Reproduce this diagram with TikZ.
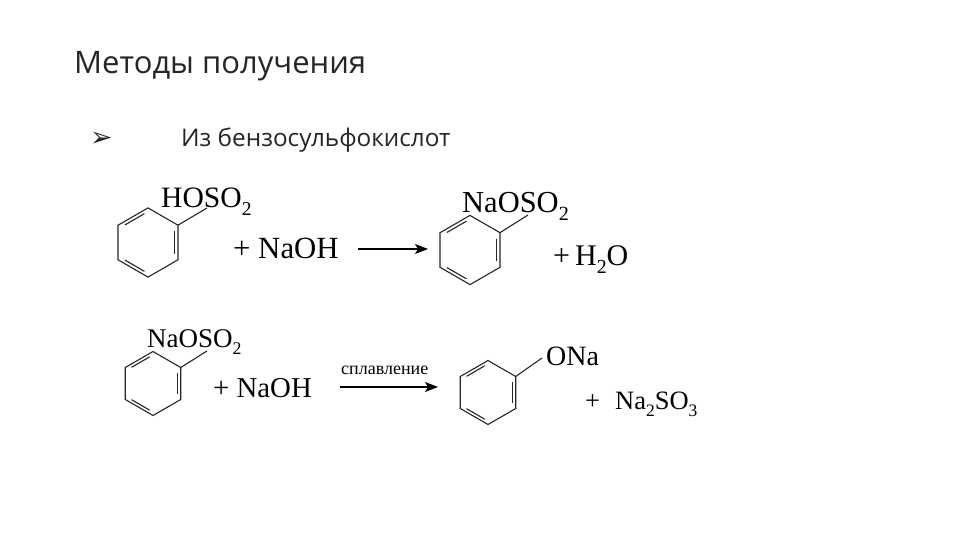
\documentclass[tikz,border=0pt]{standalone}
\usepackage{fontspec}
\setmainfont{Open Sans}
\newfontfamily\chemfont{Liberation Serif}
\newfontfamily\markfont{DejaVu Sans}
\usetikzlibrary{arrows.meta,calc,positioning}
\tikzset{
  >={Stealth[length=13pt,width=10pt,inset=3pt]}
}
\newcommand{\chemsub}[1]{\raisebox{-0.28em}{\scalebox{0.66}{#1}}}

\begin{document}
\begin{tikzpicture}[
        x=1pt,y=-1pt,
        ttl/.style={anchor=base west,inner sep=0pt,text=black!85},
        chem/.style={anchor=base west,inner sep=0pt,font=\chemfont\fontsize{#1}{#1}\selectfont},
        bond/.style={line width=1.1pt,black!85},
        benz/.pic={
          \coordinate (-tr) at (-30:#1);
          \draw[bond] (-30:#1) -- (30:#1) -- (90:#1) -- (150:#1) -- (210:#1) -- (270:#1) -- cycle;
          \draw[bond] (-23:0.84*#1) -- (23:0.84*#1);
          \draw[bond] (97:0.84*#1) -- (143:0.84*#1);
          \draw[bond] (217:0.84*#1) -- (263:0.84*#1);
        }
      ]
      \path[use as bounding box,fill=white] (0,0) rectangle (960,540);
      \node (TTL) at (74,74) [ttl,font=\fontsize{31}{31}\selectfont] {Методы получения};
      \node (MARK) at (90,146.5) [ttl,font=\markfont\fontsize{27}{27}\selectfont] {➢};
      \node (SUB) at (181,147) [ttl,font=\fontsize{24.3}{24.3}\selectfont] {Из бензосульфокислот};
      % first reaction
      \pic (RA) at (148,242.5) {benz=34.6};
      \pic (RB) at (470,250) {benz=34.6};
      \node (HOSO) at (161,207) [chem=29.6] {HOSO\chemsub{2}};
      \node (NAOHA) at (233,258) [chem=30.8] {+ NaOH};
      \node (NASOA) at (462,212) [chem=30.5] {NaOSO\chemsub{2}};
      \node (WATER) at (553,265) [chem=30] {+\,H\chemsub{2}O};
      \coordinate (BA) at (207,208);
      \coordinate (BB) at (528,215);
      \coordinate (ARAS) at (358,249);
      \coordinate (ARAE) at (428,249);
      \draw[bond] (RA-tr) -- (BA);
      \draw[bond] (RB-tr) -- (BB);
      \draw[->,line width=1.2pt] (ARAS) -- (ARAE);
      % second reaction
      \pic (RC) at (153,383.5) {benz=32};
      \pic (RD) at (488,392.5) {benz=32};
      \node (NASOB) at (147,347) [chem=27] {NaOSO\chemsub{2}};
      \node (NAOHB) at (213,397) [chem=28.8] {+ NaOH};
      \node (ONA) at (546,365) [chem=28] {ONa};
      \node (SULF) at (585,409) [chem=26.5] {+\hspace{15pt}Na\chemsub{2}SO\chemsub{3}};
      \node (MELT) at (341,374) [chem=18] {сплавление};
      \coordinate (BC) at (207,351);
      \coordinate (BD) at (542,358);
      \coordinate (ARBS) at (340,387);
      \coordinate (ARBE) at (438,387);
      \draw[bond] (RC-tr) -- (BC);
      \draw[bond] (RD-tr) -- (BD);
      \draw[->,line width=1.2pt] (ARBS) -- (ARBE);
    \end{tikzpicture}
\end{document}
